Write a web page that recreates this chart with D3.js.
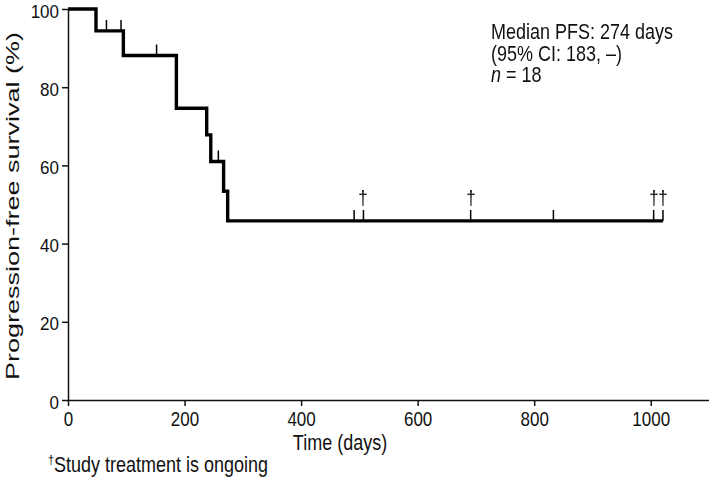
<!DOCTYPE html>
<html><head><meta charset="utf-8">
<script src="https://cdn.jsdelivr.net/npm/d3@7"></script>
<style>body{margin:0;background:#fff}svg{display:block}text{font-family:"Liberation Sans",Arial,sans-serif;fill:#111}.dag{opacity:0.99;will-change:transform}</style>
</head><body><svg id="c" width="709" height="481"></svg>
<script>
// Kaplan-Meier step data (days, % PFS)
const eventTimes = [0, 48, 95, 186, 238, 245, 267, 274];
const survival   = [100, 94.4, 88.1, 74.6, 67.8, 61.0, 53.4, 45.8];
const lastTime = 1021;
// censored observations (days), and whether study treatment is ongoing (†)
const censorTimes = [66, 91, 152, 258, 491, 507, 691, 833, 1005, 1021];
const censorOngoing = [false, false, false, false, false, true, true, false, true, true];
const xTicks = [0, 200, 400, 600, 800, 1000];
const yTicks = [0, 20, 40, 60, 80, 100];
const infoLines = ["Median PFS: 274 days", "(95% CI: 183, \u2013)"];

const svg = d3.select("#c");
const x = d3.scaleLinear().domain([0, 1100]).range([68, 709]);
const y = d3.scaleLinear().domain([0, 100]).range([400, 9]);
const SY = 1.18; // vertical stretch of lettering

const gx = svg.append("g").attr("transform", "translate(0,400)")
  .call(d3.axisBottom(x).tickValues(xTicks).tickSize(6).tickSizeOuter(0).tickFormat(d3.format("d")));
const gy = svg.append("g").attr("transform", "translate(68,0)")
  .call(d3.axisLeft(y).tickValues(yTicks).tickSize(6).tickSizeOuter(0));
[gx, gy].forEach(g => {
  g.select(".domain").attr("stroke", "#111").attr("stroke-width", 1.5);
  g.selectAll(".tick line").attr("stroke", "#111").attr("stroke-width", 1.5);
  g.selectAll(".tick text").attr("font-size", 17).attr("font-family", '"Liberation Sans",Arial,sans-serif').attr("fill", "#111");
});
gx.selectAll(".tick text").attr("y", 0).attr("dy", 0)
  .attr("transform", `translate(0,26) scale(1,${SY})`);
gy.selectAll(".tick text").attr("x", 0).attr("dy", 0)
  .attr("transform", "translate(-9,8) scale(1,1.1)");

// step curve
const pts = eventTimes.map((t, i) => [t, survival[i]]);
pts.push([lastTime, survival[survival.length - 1]]);
const line = d3.line().x(d => x(d[0])).y(d => y(d[1])).curve(d3.curveStepAfter);
svg.append("path").datum(pts).attr("d", line).attr("fill", "none")
  .attr("stroke", "#000").attr("stroke-width", 3.4).attr("stroke-linejoin", "miter");

function sAt(t) {
  let s = survival[0];
  eventTimes.forEach((e, i) => { if (e <= t) s = survival[i]; });
  return s;
}
const dg = svg.append("g").attr("class", "dag");
censorTimes.forEach((t, i) => {
  const cx = x(t), cy = y(sAt(t));
  svg.append("line").attr("x1", cx).attr("x2", cx).attr("y1", cy).attr("y2", cy - 11)
    .attr("stroke", "#000").attr("stroke-width", 1.5);
  if (censorOngoing[i]) {
    dg.append("text").attr("transform", `translate(${Math.round(cx)},${cy - 16}) scale(1,${SY})`)
      .attr("text-anchor", "middle").attr("font-family", '"Liberation Sans",sans-serif')
      .attr("style", "fill:#000").attr("font-size", 17).text("\u2020");
  }
});

// axis titles
svg.append("text").attr("transform", `translate(340,450) scale(1,${SY})`).attr("text-anchor", "middle")
  .attr("font-size", 18).text("Time (days)");
svg.append("text").attr("transform", "translate(19,206) rotate(-90) scale(1.5,1)").attr("text-anchor", "middle")
  .attr("font-size", 18).text("Progression-free survival (%)");

// info block
infoLines.forEach((s, i) => {
  svg.append("text").attr("transform", `translate(491,${39 + i * 21.5}) scale(1,${SY})`)
    .attr("font-size", 18).text(s);
});
const nt = svg.append("text").attr("transform", `translate(491,82) scale(1,${SY})`).attr("font-size", 18);
nt.append("tspan").attr("font-style", "italic").text("n");
nt.append("tspan").text(" = 18");

// footnote
const fn = svg.append("text").attr("transform", `translate(48,472) scale(1,${SY})`).attr("font-size", 18);
fn.append("tspan").attr("font-size", 11).attr("dy", -7).text("\u2020");
fn.append("tspan").attr("dy", 7).text("Study treatment is ongoing");
</script></body></html>
